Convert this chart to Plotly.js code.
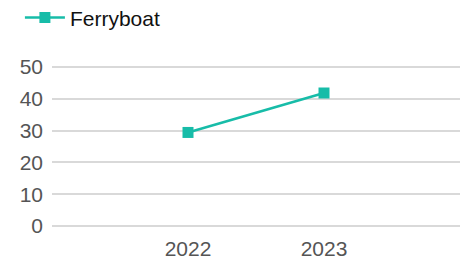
<!DOCTYPE html>
<html>
<head>
<script src="https://cdn.plot.ly/plotly-3.0.1.min.js"></script>
<style>body{margin:0;padding:0;}#chart{width:463px;height:262px;}</style>
</head>
<body>
<div id="chart"></div>
<script>
const years = ['2022', '2023'];
const ferryboat = [29.4, 41.8];
const seriesName = 'Ferryboat';

Plotly.newPlot('chart', [{
  x: years,
  y: ferryboat,
  name: seriesName,
  type: 'scatter',
  mode: 'lines+markers',
  line: {color: '#17bca8', width: 2.5},
  marker: {color: '#17bca8', symbol: 'square', size: 11},
  showlegend: true
}], {
  width: 463, height: 262,
  margin: {l: 52, r: 3, t: 65, b: 36, autoexpand: false},
  paper_bgcolor: '#fff', plot_bgcolor: '#fff',
  font: {family: 'Liberation Sans, Arial, sans-serif', size: 21, color: '#555'},
  showlegend: true,
  legend: {x: 0.043, xref: 'container', y: 1.42, yref: 'paper', yanchor: 'top', xanchor: 'left',
           orientation: 'h', itemwidth: 40, font: {size: 21, color: '#111'}},
  xaxis: {type: 'category', range: [-1, 2], showgrid: false, zeroline: false, showline: false,
          ticks: '', ticklabelstandoff: 8, tickfont: {size: 21, color: '#555'}},
  yaxis: {range: [0, 50.6], tickvals: [0, 10, 20, 30, 40, 50], showgrid: true, gridcolor: '#d9d9d9', gridwidth: 2,
          zeroline: true, zerolinecolor: '#d9d9d9', zerolinewidth: 2, showline: false, ticks: '',
          ticklabelstandoff: 8, tickfont: {size: 21, color: '#555'}}
}, {displayModeBar: false, staticPlot: true});
</script>
</body>
</html>
